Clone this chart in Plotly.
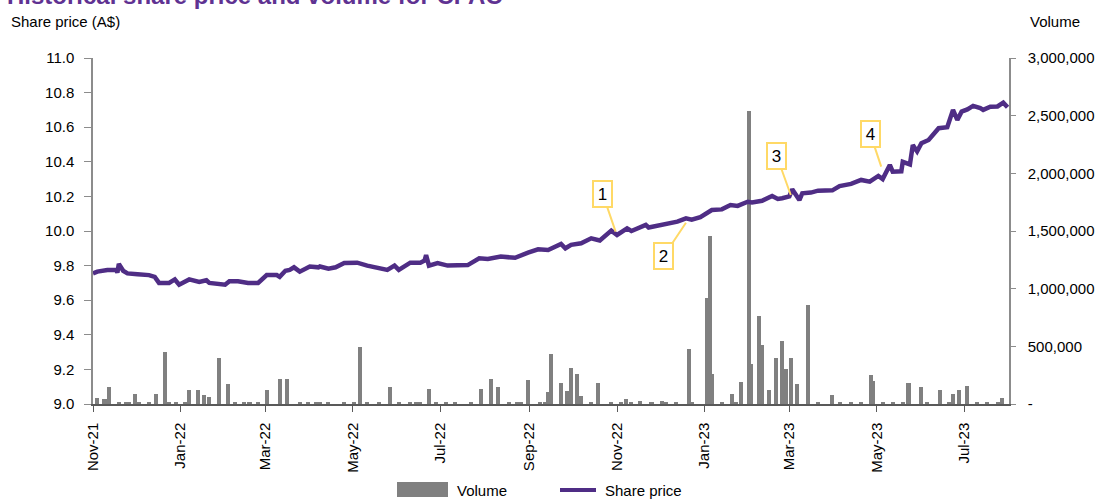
import plotly.graph_objects as go

# ---------------- data ----------------
price_dates = [
    "2021-11-01", "2021-11-04", "2021-11-11", "2021-11-17", "2021-11-18", "2021-11-19", "2021-11-22", "2021-11-25",
    "2021-12-02", "2021-12-10", "2021-12-14", "2021-12-17", "2021-12-24", "2021-12-28", "2021-12-31",
    "2022-01-07", "2022-01-14", "2022-01-19", "2022-01-21", "2022-01-28", "2022-02-01", "2022-02-04", "2022-02-10",
    "2022-02-17", "2022-02-24", "2022-03-02", "2022-03-09", "2022-03-11", "2022-03-15", "2022-03-18", "2022-03-21",
    "2022-03-25", "2022-04-01", "2022-04-07", "2022-04-08", "2022-04-14", "2022-04-19", "2022-04-25", "2022-05-04",
    "2022-05-11", "2022-05-18", "2022-05-25", "2022-05-30", "2022-06-02", "2022-06-10", "2022-06-17", "2022-06-20",
    "2022-06-21", "2022-06-23", "2022-06-29", "2022-07-06", "2022-07-20", "2022-07-28", "2022-08-03", "2022-08-12",
    "2022-08-22", "2022-08-31", "2022-09-07", "2022-09-14", "2022-09-21", "2022-09-23", "2022-09-26", "2022-09-30",
    "2022-10-07", "2022-10-14", "2022-10-20", "2022-10-25", "2022-10-28", "2022-11-01", "2022-11-08", "2022-11-11",
    "2022-11-21", "2022-11-23", "2022-12-02", "2022-12-13", "2022-12-19", "2022-12-23", "2022-12-29",
    "2023-01-06", "2023-01-13", "2023-01-19", "2023-01-24", "2023-01-31", "2023-02-03", "2023-02-10", "2023-02-17",
    "2023-02-21", "2023-02-24", "2023-03-01", "2023-03-03", "2023-03-08", "2023-03-10", "2023-03-16", "2023-03-21",
    "2023-03-31", "2023-04-05", "2023-04-13", "2023-04-20", "2023-04-26", "2023-05-02", "2023-05-05", "2023-05-10",
    "2023-05-12", "2023-05-18", "2023-05-19", "2023-05-24", "2023-05-26", "2023-05-29", "2023-06-01", "2023-06-06",
    "2023-06-09", "2023-06-13", "2023-06-19", "2023-06-23", "2023-06-26", "2023-06-29", "2023-07-03", "2023-07-07",
    "2023-07-12", "2023-07-14", "2023-07-19", "2023-07-24", "2023-07-28", "2023-07-31",
]
share_price = [
    9.755, 9.765, 9.775, 9.775, 9.76, 9.81, 9.77, 9.755,
    9.75, 9.745, 9.735, 9.70, 9.70, 9.72, 9.69,
    9.72, 9.705, 9.715, 9.70, 9.69, 9.69, 9.71, 9.71,
    9.70, 9.70, 9.745, 9.745, 9.735, 9.77, 9.775, 9.79,
    9.765, 9.795, 9.79, 9.795, 9.782, 9.79, 9.815, 9.817,
    9.80, 9.79, 9.775, 9.80, 9.775, 9.817, 9.817, 9.83,
    9.861, 9.80, 9.815, 9.80, 9.803, 9.842, 9.838, 9.852,
    9.845, 9.875, 9.894, 9.89, 9.919, 9.925, 9.90, 9.92,
    9.929, 9.958, 9.945, 9.977, 10.002, 9.977, 10.015, 10.0,
    10.035, 10.02, 10.035, 10.054, 10.073, 10.065, 10.08,
    10.121, 10.125, 10.15, 10.145, 10.169, 10.165, 10.175, 10.202,
    10.185, 10.189, 10.20, 10.241, 10.179, 10.218, 10.222, 10.233,
    10.235, 10.26, 10.272, 10.295, 10.285, 10.318, 10.30, 10.382,
    10.343, 10.345, 10.40, 10.385, 10.497, 10.46, 10.507, 10.526,
    10.555, 10.594, 10.60, 10.70, 10.642, 10.69, 10.703, 10.723,
    10.71, 10.70, 10.718, 10.72, 10.742, 10.715,
]

volume_dates = [
    "2021-11-04", "2021-11-09", "2021-11-12", "2021-11-19", "2021-11-24", "2021-11-26", "2021-11-30",
    "2021-12-03", "2021-12-10", "2021-12-15", "2021-12-21", "2021-12-24", "2021-12-29",
    "2022-01-04", "2022-01-07", "2022-01-13", "2022-01-17", "2022-01-21", "2022-01-28",
    "2022-02-03", "2022-02-08", "2022-02-14", "2022-02-18", "2022-02-24",
    "2022-03-02", "2022-03-11", "2022-03-16", "2022-03-25", "2022-03-31",
    "2022-04-05", "2022-04-08", "2022-04-14", "2022-04-25",
    "2022-05-02", "2022-05-06", "2022-05-11", "2022-05-19", "2022-05-27",
    "2022-06-02", "2022-06-10", "2022-06-14", "2022-06-17", "2022-06-23", "2022-06-28",
    "2022-07-05", "2022-07-11", "2022-07-22", "2022-07-29",
    "2022-08-05", "2022-08-10", "2022-08-18", "2022-08-23", "2022-08-26", "2022-08-31",
    "2022-09-08", "2022-09-12", "2022-09-14", "2022-09-16", "2022-09-23", "2022-09-27", "2022-09-30",
    "2022-10-04", "2022-10-07", "2022-10-14", "2022-10-19", "2022-10-28",
    "2022-11-04", "2022-11-07", "2022-11-11", "2022-11-17", "2022-11-25",
    "2022-12-02", "2022-12-05", "2022-12-12", "2022-12-21", "2022-12-23",
    "2023-01-03", "2023-01-05", "2023-01-06", "2023-01-13", "2023-01-20", "2023-01-23", "2023-01-26",
    "2023-02-01", "2023-02-02", "2023-02-08", "2023-02-10", "2023-02-15", "2023-02-20", "2023-02-24", "2023-02-27",
    "2023-03-02", "2023-03-06", "2023-03-14", "2023-03-21", "2023-03-31",
    "2023-04-05", "2023-04-13", "2023-04-20", "2023-04-27", "2023-04-28",
    "2023-05-05", "2023-05-12", "2023-05-19", "2023-05-23",
    "2023-06-01", "2023-06-05", "2023-06-14", "2023-06-20", "2023-06-23", "2023-06-27",
    "2023-07-03", "2023-07-10", "2023-07-17", "2023-07-24", "2023-07-27",
]
volume = [
    55000, 40000, 150000, 15000, 15000, 15000, 90000,
    15000, 15000, 90000, 450000, 15000, 15000,
    15000, 120000, 120000, 80000, 60000, 400000,
    170000, 15000, 15000, 15000, 15000,
    120000, 220000, 220000, 15000, 15000,
    15000, 15000, 20000, 15000,
    20000, 490000, 15000, 15000, 150000,
    15000, 15000, 15000, 15000, 130000, 20000,
    15000, 20000, 15000, 130000,
    220000, 150000, 15000, 15000, 15000, 210000,
    15000, 15000, 100000, 430000, 180000, 110000, 310000,
    260000, 70000, 15000, 180000, 15000,
    15000, 40000, 15000, 30000, 15000,
    30000, 15000, 15000, 480000, 15000,
    920000, 1460000, 260000, 15000, 90000, 15000, 190000,
    2540000, 350000, 760000, 510000, 120000, 400000, 550000, 300000,
    400000, 170000, 860000, 15000, 80000,
    15000, 15000, 15000, 250000, 200000,
    15000, 15000, 15000, 180000,
    150000, 15000, 120000, 15000, 90000, 120000,
    160000, 15000, 15000, 15000, 50000,
]

event_labels = ["1", "2", "3", "4"]
event_dates = ["2022-10-31", "2022-12-19", "2023-03-02", "2023-05-04"]
event_prices = [9.996, 10.048, 10.208, 10.372]
event_offsets = [(-13, -38), (-22, 33), (-14, -39), (-11, -33)]

vol_ticks = [0, 500000, 1000000, 1500000, 2000000, 2500000, 3000000]
vol_ticktext = ["-", "500,000", "1,000,000", "1,500,000", "2,000,000", "2,500,000", "3,000,000"]
price_ticks = [9.0, 9.2, 9.4, 9.6, 9.8, 10.0, 10.2, 10.4, 10.6, 10.8, 11.0]

# ---------------- figure ----------------
FONT = "Liberation Sans, Arial, sans-serif"
PURPLE = "#4f2d85"
GREY = "#808080"
AXIS = "#8c8c8c"
W, H = 1102, 500
ML, MR, MT, MB = 93, 93, 58, 96
PW, PH = W - ML - MR, H - MT - MB


def px(x):
    return (x - ML) / PW


def py(y):
    return (H - MB - y) / PH


fig = go.Figure()
fig.add_trace(go.Bar(
    x=volume_dates, y=volume, name="Volume", yaxis="y",
    marker=dict(color=GREY, line=dict(width=0)),
    width=2.8 * 86400000, showlegend=False,
))
fig.add_trace(go.Scatter(
    x=price_dates, y=share_price, name="Share price", yaxis="y2",
    mode="lines", line=dict(color=PURPLE, width=4.5), showlegend=False,
))

for lab, d, p, (ax, ay) in zip(event_labels, event_dates, event_prices, event_offsets):
    fig.add_annotation(
        x=d, y=p, xref="x", yref="y2", text=lab,
        showarrow=True, arrowhead=0, arrowwidth=2, arrowcolor="#FFD966",
        ax=ax, ay=ay, standoff=0,
        bgcolor="white", bordercolor="#FFD966", borderwidth=2, borderpad=2,
        width=13, height=20,
        font=dict(family=FONT, size=17, color="black"),
    )

# title and axis titles
fig.add_annotation(
    x=px(5), y=py(-5), xref="paper", yref="paper", xanchor="left", yanchor="middle",
    text="<b>Historical share price and volume for CPAC</b>", showarrow=False,
    font=dict(family=FONT, size=24, color="#5f3292"),
)
fig.add_annotation(
    x=px(9), y=py(22), xref="paper", yref="paper", xanchor="left", yanchor="middle",
    text="Share price (A$)", showarrow=False,
    font=dict(family=FONT, size=15, color="black"),
)
fig.add_annotation(
    x=px(1028), y=py(22), xref="paper", yref="paper", xanchor="left", yanchor="middle",
    text="Volume", showarrow=False,
    font=dict(family=FONT, size=15, color="black"),
)

# legend (drawn)
fig.add_shape(type="rect", xref="paper", yref="paper",
              x0=px(397), x1=px(448), y0=py(497), y1=py(482),
              fillcolor=GREY, line=dict(width=0))
fig.add_shape(type="line", xref="paper", yref="paper",
              x0=px(560), x1=px(596), y0=py(490), y1=py(490),
              line=dict(color=PURPLE, width=4))
fig.add_annotation(x=px(455), y=py(490), xref="paper", yref="paper", xanchor="left", yanchor="middle",
                   text="Volume", showarrow=False, font=dict(family=FONT, size=15, color="black"))
fig.add_annotation(x=px(603), y=py(490), xref="paper", yref="paper", xanchor="left", yanchor="middle",
                   text="Share price", showarrow=False, font=dict(family=FONT, size=15, color="black"))

fig.update_layout(
    width=W, height=H,
    margin=dict(l=ML, r=MR, t=MT, b=MB),
    paper_bgcolor="white", plot_bgcolor="white",
    font=dict(family=FONT, size=15, color="black"),
    bargap=0,
    showlegend=False,
    xaxis=dict(
        type="date", range=["2021-11-01", "2023-08-01"],
        tick0="2021-11-01", dtick="M2", tickformat="%b-%y", tickangle=-90,
        ticks="outside", ticklen=6, tickcolor="#595959", ticklabelstandoff=5,
        showline=True, linecolor="#595959", linewidth=1.5,
        showgrid=False, zeroline=False, automargin=False,
        tickfont=dict(size=15),
    ),
    yaxis=dict(
        side="right", range=[0, 3000000],
        tickvals=vol_ticks, ticktext=vol_ticktext,
        ticks="outside", ticklen=5, tickcolor=AXIS, ticklabelstandoff=9,
        showline=True, linecolor=AXIS, linewidth=1.5,
        showgrid=False, zeroline=False, automargin=False,
    ),
    yaxis2=dict(
        side="left", overlaying="y", range=[9.0, 11.0],
        tickvals=price_ticks, tickformat=".1f",
        ticks="outside", ticklen=7, tickcolor=AXIS, ticklabelstandoff=7,
        showline=True, linecolor=AXIS, linewidth=1.5,
        showgrid=False, zeroline=False, automargin=False,
    ),
)

fig.write_html("out.html", config={"displayModeBar": False},
               post_script="document.body.style.margin='0';")
